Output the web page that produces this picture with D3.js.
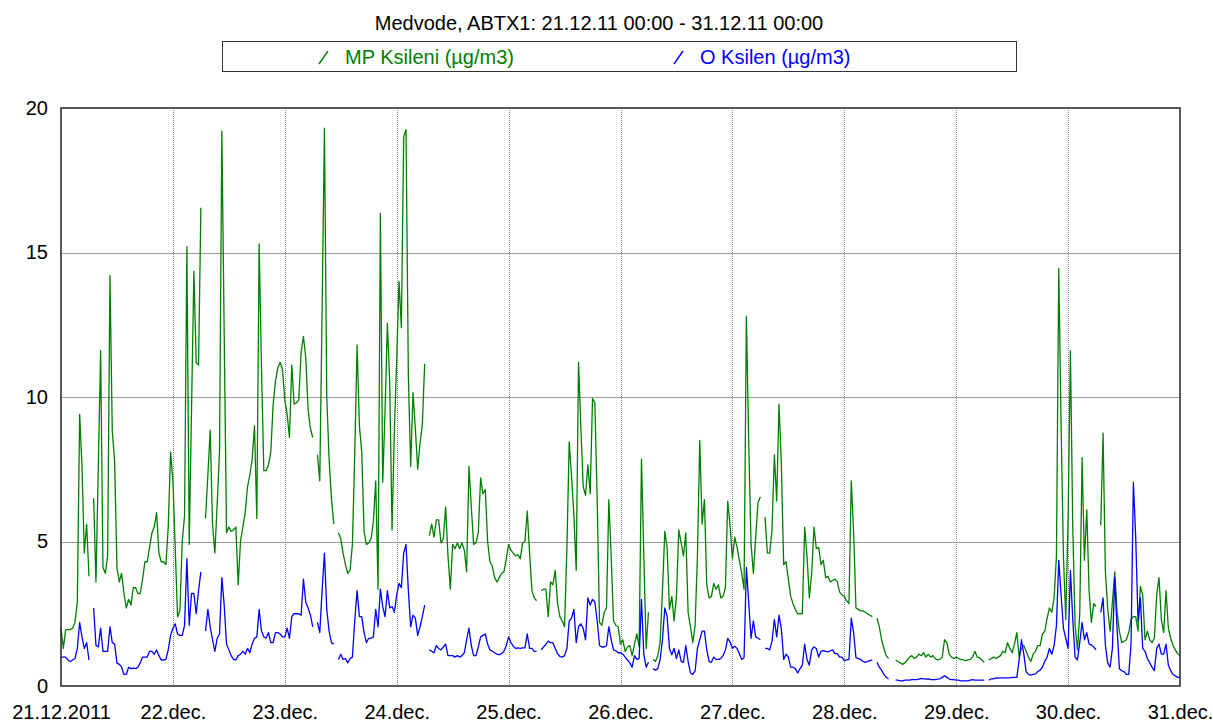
<!DOCTYPE html>
<html><head><meta charset="utf-8">
<script src="https://cdn.jsdelivr.net/npm/d3@7"></script>
<style>
body{margin:0;background:#fff}
svg text{font-family:"Liberation Sans",Arial,sans-serif}
</style>
</head><body>
<svg id="chart" width="1213" height="726"></svg>
<script>
const chartTitle = "Medvode, ABTX1: 21.12.11 00:00 - 31.12.11 00:00";
const seriesNames = ["MP Ksileni (µg/m3)", "O Ksilen (µg/m3)"];
const seriesColors = ["#008000", "#0000ff"];
const yTickValues = [0, 5, 10, 15, 20];
const xTickLabels = ["21.12.2011","22.dec.","23.dec.","24.dec.","25.dec.","26.dec.","27.dec.","28.dec.","29.dec.","30.dec.","31.dec."];
const periodStart = new Date(2011, 11, 21, 0, 0);
const periodEnd = new Date(2011, 11, 31, 0, 0);
const stepMinutes = 30;

// MP Ksileni, half-hourly values from 21.12.2011 00:00 (null = no data)
const mpKsileni = [
 // 21.12
 2.0,1.3,1.95,1.95,1.95,2.0,2.2,2.9, 9.4,7.6,4.6,5.6,3.8,null,6.5,3.6, 7.6,11.6,4.1,3.9,4.5,14.2,8.8,7.8,
 4.1,3.6,3.9,3.2,2.7,3.0,2.8,3.4, 3.4,3.2,3.2,3.7,4.3,4.3,4.8,5.3, 5.5,6.0,4.6,4.3,4.3,4.2,5.5,8.1,
 // 22.12
 7.1,4.75,2.4,2.6,5.0,5.9,15.2,4.9, 9.6,14.35,11.2,11.1,16.55,null,5.8,7.3, 8.85,5.6,4.6,6.3,8.1,19.2,12.2,5.3,
 5.5,5.35,5.4,5.5,3.5,5.0,5.5,6.0, 6.9,7.3,7.85,9.0,5.8,15.3,11.0,7.45, 7.45,7.65,8.1,9.75,10.55,11.0,11.2,10.95,
 // 23.12
 9.9,9.4,8.6,11.1,9.75,9.8,9.9,11.55, 12.1,11.35,9.55,8.9,8.6,null,8.0,7.1, 13.0,19.3,10.0,7.85,6.5,5.6,null,5.3,
 5.1,4.6,4.2,3.9,4.0,4.9,8.0,11.8, 9.0,8.1,5.35,4.9,4.95,5.1,5.7,7.1, 3.35,16.35,7.05,9.5,12.55,10.5,5.4,8.85,
 // 24.12
 11.3,14.0,12.4,19.0,19.25,10.7,7.6,10.15, 8.9,7.5,8.4,9.05,11.15,null,5.2,5.6, 5.15,5.75,5.75,4.95,5.1,6.2,4.5,3.35,
 4.9,4.75,4.95,4.75,4.95,4.7,3.95,7.6, 6.2,4.9,4.95,5.3,7.2,6.65,6.8,5.0, 4.3,4.15,3.75,3.6,3.75,3.9,3.95,4.4,
 // 25.12
 4.9,4.7,4.6,4.5,4.55,4.4,4.95,5.0, 6.05,4.6,3.3,3.05,2.95,null,3.3,3.35, 3.35,2.4,3.6,3.5,4.0,2.85,2.4,2.25,
 2.05,4.75,8.45,7.25,5.9,4.0,11.2,8.95, 6.9,6.6,7.65,6.65,9.95,9.8,6.45,2.2, 2.1,2.55,2.7,6.45,4.5,2.25,2.1,2.05,
 // 26.12
 1.45,1.6,1.2,1.35,1.4,1.05,1.45,1.8, 1.35,7.85,4.5,1.3,2.55,null,0.92,0.85, 1.05,1.5,3.3,5.35,4.8,2.65,3.1,2.25,
 3.1,5.4,4.95,4.5,5.3,2.55,2.05,1.5, 2.1,4.5,8.5,5.6,6.45,3.5,3.05,3.1, 3.55,3.35,3.5,3.05,3.1,3.4,6.4,5.55,
 // 27.12
 4.4,5.15,4.8,4.35,3.9,3.35,12.8,8.4, 4.9,3.9,5.15,6.35,6.55,null,5.85,4.6, 4.6,5.4,8.0,6.4,9.75,7.65,4.2,4.3,
 3.7,3.1,2.85,2.65,2.5,2.5,2.5,5.5, 4.5,3.05,3.9,5.5,4.75,4.8,4.2,4.35, 3.75,3.8,3.6,3.65,3.7,3.6,3.25,3.15,
 // 28.12
 3.1,2.95,2.85,7.1,5.3,2.7,2.65,2.6, 2.6,2.55,2.5,2.45,2.4,null,2.35,2.05, 1.6,1.3,1.05,0.95,null,null,0.9,0.85,
 0.8,0.75,0.8,0.9,1.0,1.05,0.95,1.0, 1.1,1.05,1.15,1.0,1.1,1.0,1.05,0.95, 0.9,0.92,1.0,1.6,1.5,1.1,1.0,0.95,
 // 29.12
 1.0,0.95,0.92,0.9,0.88,0.9,0.92,1.0, 1.2,1.0,0.98,0.9,0.82,null,0.9,0.95, 1.0,0.95,1.0,1.05,1.2,1.15,1.5,1.3,
 1.15,1.45,1.85,1.0,1.3,1.4,1.2,1.0, 0.85,1.1,1.2,1.4,1.4,1.8,1.9,2.35, 2.7,2.55,3.05,4.5,14.45,9.0,4.5,2.3,
 // 30.12
 5.8,11.6,5.5,2.1,1.25,2.5,7.9,4.35, 6.1,3.3,2.2,2.85,2.75,null,5.55,8.75, 3.95,2.65,1.9,2.9,3.95,2.55,1.9,1.5,
 1.55,1.6,1.85,2.3,2.4,2.4,1.9,3.45, 3.15,1.6,1.9,1.6,1.5,1.65,3.15,3.75, 2.3,1.85,3.3,2.0,1.65,1.4,1.25,1.12,
 // 31.12 00:00
 1.05
];

// O Ksilen, half-hourly values from 21.12.2011 00:00 (null = no data)
const oKsilen = [
 // 21.12
 1.0,1.0,1.0,0.9,0.85,0.9,0.95,1.3, 2.2,1.7,1.3,1.5,0.9,null,2.7,1.4, 1.35,2.0,1.2,1.2,1.2,2.05,1.5,1.45,
 0.8,0.75,0.65,0.4,0.4,0.65,0.6,0.62, 0.6,0.65,0.8,1.0,1.0,1.0,1.2,1.2, 1.1,1.25,1.05,0.9,0.9,0.92,1.25,1.75,
 // 22.12
 2.0,2.15,1.8,1.75,1.75,2.1,4.4,2.1, 3.2,3.2,2.5,3.3,3.95,null,1.9,2.65, 2.05,1.6,1.2,1.65,1.8,3.75,2.8,1.45,
 1.25,1.05,0.92,0.9,1.05,1.1,1.2,1.1, 1.3,1.15,1.45,1.65,1.7,2.65,1.9,1.7, 1.65,1.85,1.5,1.5,1.85,1.85,1.8,1.7,
 // 23.12
 1.7,2.0,1.65,2.4,2.5,2.5,2.5,2.45, 3.7,2.9,2.7,2.45,2.05,null,2.2,1.85, 3.3,4.6,2.65,1.9,1.5,1.45,null,0.92,
 1.1,0.92,0.95,0.8,0.95,1.0,2.25,3.3, 2.4,2.4,1.85,1.5,1.65,1.65,1.7,2.65, 2.05,3.35,2.75,2.4,3.3,2.7,2.75,2.55,
 // 24.12
 3.15,3.55,3.4,4.6,4.9,3.3,2.05,2.45, 2.35,1.75,2.05,2.4,2.8,null,1.25,1.2, 1.15,1.4,1.3,1.25,1.35,1.45,1.05,1.05,
 1.05,1.0,1.05,1.0,1.05,1.15,1.6,2.0, 1.4,1.05,1.05,1.35,1.7,1.75,1.8,1.45, 1.25,1.2,1.15,1.1,1.08,1.12,1.2,1.4,
 // 25.12
 1.7,1.5,1.38,1.3,1.32,1.3,1.32,1.32, 1.8,1.3,1.3,1.2,1.2,null,1.25,1.35, 1.45,1.55,1.5,1.5,1.3,1.12,1.02,1.0,
 1.05,1.3,2.25,2.35,2.65,1.5,2.05,2.15, 2.0,1.6,3.05,2.8,3.0,2.9,2.25,1.4, 1.35,1.35,1.4,2.05,1.6,1.25,1.22,1.15,
 // 26.12
 1.15,1.1,1.0,0.9,0.8,0.65,1.05,0.92, 0.95,3.0,1.1,0.65,0.82,null,0.6,0.55, 0.6,0.92,1.6,2.7,2.4,1.3,1.08,1.3,
 0.95,1.25,0.85,0.82,1.4,0.85,0.45,0.4, 0.52,1.3,1.6,1.9,1.9,1.25,0.85,0.82, 1.0,0.92,0.92,0.95,1.05,1.25,1.65,1.52,
 // 27.12
 1.3,1.38,1.3,1.12,0.92,0.98,4.1,2.9, 1.65,2.25,1.7,1.65,1.6,null,1.3,1.3, 1.25,1.55,2.3,1.7,2.45,1.98,0.92,1.1,
 1.0,0.65,0.65,0.6,0.45,0.6,0.72,1.45, 0.92,0.72,1.25,1.35,1.3,1.0,1.2,1.22, 1.2,1.18,1.22,1.25,1.12,1.12,1.0,1.0,
 // 28.12
 0.88,0.9,0.92,2.35,1.85,0.98,0.95,0.92, 0.85,0.82,0.85,0.88,0.9,null,0.82,0.65, 0.55,0.4,0.3,0.24,null,null,0.2,0.2,
 0.18,0.18,0.2,0.2,0.2,0.22,0.22,0.22, 0.24,0.26,0.25,0.24,0.25,0.22,0.22,0.22, 0.24,0.25,0.3,0.35,0.3,0.24,0.22,0.22,
 // 29.12
 0.2,0.2,0.18,0.18,0.18,0.18,0.2,0.22, 0.2,0.2,0.2,0.2,0.2,null,0.2,0.25, 0.25,0.28,0.27,0.28,0.28,0.28,0.28,0.28,
 0.3,0.3,0.3,0.9,1.6,1.1,0.5,0.4, 0.38,0.4,0.42,0.5,0.55,0.66,0.86,1.0, 1.3,1.1,1.4,2.1,4.35,3.15,2.0,1.65,
 // 30.12
 1.3,4.0,2.3,1.0,0.9,1.5,2.2,1.6, 1.85,1.45,1.42,1.35,1.25,null,2.55,3.05, 1.4,0.8,0.65,1.3,3.75,2.0,0.6,0.53,
 0.5,0.4,0.4,1.45,7.05,5.15,2.25,3.05, 1.3,1.2,0.95,0.8,0.65,0.53,1.3,1.45, 1.1,1.1,1.45,0.72,0.53,0.4,0.35,0.3,
 // 31.12 00:00
 0.3
];

const svg = d3.select("#chart");
const margin = {left: 61, right: 33, top: 108, bottom: 40};
const W = 1213, H = 726;

const x = d3.scaleTime().domain([periodStart, periodEnd]).range([margin.left, W - margin.right]);
const y = d3.scaleLinear().domain([0, 20]).range([H - margin.bottom, margin.top]);
const timeAt = i => new Date(periodStart.getTime() + i * stepMinutes * 60000);
const dayTicks = d3.timeDay.range(periodStart, d3.timeDay.offset(periodEnd, 1));

// title
svg.append("text").attr("x", 599).attr("y", 30).attr("text-anchor", "middle")
  .attr("font-size", 20).attr("fill", "#000").text(chartTitle);

// legend
const lg = svg.append("g");
lg.append("rect").attr("x", 222.5).attr("y", 41.5).attr("width", 794).attr("height", 30)
  .attr("fill", "#fff").attr("stroke", "#333").attr("stroke-width", 1);
const legendX = [319, 674];
seriesNames.forEach((name, i) => {
  lg.append("line").attr("x1", legendX[i]).attr("y1", 64).attr("x2", legendX[i] + 9).attr("y2", 51)
    .attr("stroke", seriesColors[i]).attr("stroke-width", 1.4);
  lg.append("text").attr("x", legendX[i] + 26).attr("y", 64).attr("font-size", 20)
    .attr("fill", seriesColors[i]).text(name);
});

// grid
const grid = svg.append("g");
grid.selectAll("line.h").data(yTickValues.filter(v => v > 0 && v < 20)).join("line")
  .attr("x1", x.range()[0]).attr("x2", x.range()[1])
  .attr("y1", d => Math.round(y(d)) + 0.5).attr("y2", d => Math.round(y(d)) + 0.5)
  .attr("stroke", "#999").attr("stroke-width", 1);
grid.selectAll("line.v").data(dayTicks.slice(1, -1)).join("line")
  .attr("x1", d => Math.round(x(d)) + 0.5).attr("x2", d => Math.round(x(d)) + 0.5)
  .attr("y1", y(20)).attr("y2", y(0))
  .attr("stroke", "#888").attr("stroke-width", 1).attr("stroke-dasharray", "1,1");

// series
const line = d3.line().defined(d => d != null).x((d, i) => x(timeAt(i))).y(d => y(d));
const seriesData = [mpKsileni, oKsilen];
svg.append("g").selectAll("path").data(seriesData).join("path")
  .attr("d", d => line(d)).attr("fill", "none")
  .attr("stroke", (d, i) => seriesColors[i]).attr("stroke-width", 1.3)
  .attr("stroke-linejoin", "round");

// frame
svg.append("rect").attr("x", x.range()[0]).attr("y", y(20))
  .attr("width", x.range()[1] - x.range()[0]).attr("height", y(0) - y(20))
  .attr("fill", "none").attr("stroke", "#222").attr("stroke-width", 1.5);

// axes
const yAxis = d3.axisLeft(y).tickValues(yTickValues).tickSize(0).tickPadding(13).tickFormat(d3.format("d"));
svg.append("g").attr("transform", `translate(${x.range()[0]},0)`).call(yAxis)
  .call(g => g.select(".domain").remove())
  .call(g => g.selectAll("text").attr("font-size", 20).attr("font-family", "Liberation Sans, Arial, sans-serif").attr("fill", "#000"));

const xAxis = d3.axisBottom(x).tickValues(dayTicks).tickSize(0).tickPadding(19)
  .tickFormat((d, i) => xTickLabels[i]);
svg.append("g").attr("transform", `translate(0,${y(0)})`).call(xAxis)
  .call(g => g.select(".domain").remove())
  .call(g => g.selectAll("text").attr("font-size", 20).attr("font-family", "Liberation Sans, Arial, sans-serif").attr("fill", "#000"));
</script>
</body></html>
